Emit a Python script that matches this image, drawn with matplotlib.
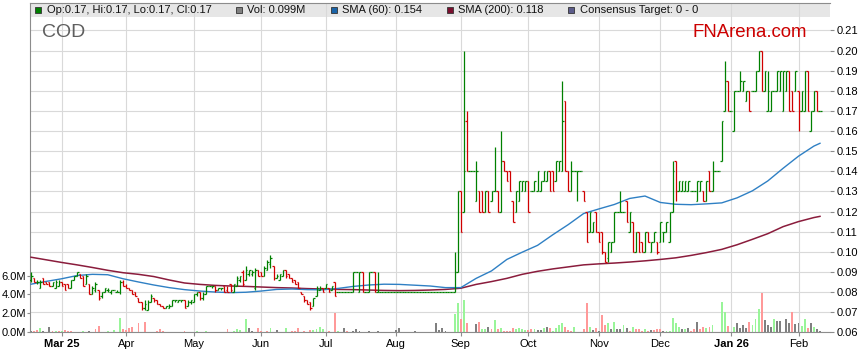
import matplotlib
matplotlib.use("Agg")
import matplotlib.pyplot as plt
import matplotlib.transforms as mtrans
from matplotlib.collections import LineCollection
from matplotlib.patches import Rectangle
import numpy as np
import pandas as pd

plt.rcParams['font.family'] = ['Liberation Sans', 'DejaVu Sans']

# ---------------- data ----------------
ticker = "COD"
start_date = "2025-02-17"
n_bars = 258

# prices in cents
opens = [
    8.6, 8.7, 8.5, 8.2, 8.7, 8.5, 8.5, 8.3, 8.2, 8.3,
    8.5, 8.4, 8.4, 8.2, 8.6, 8.8, 8.9, 8.8, 8.4, 8.4,
    7.9, 8.1, 8.1, 7.8, 8.0, 8.1, 8.0, 8.1, 8.0, 8.0,
    8.5, 8.3, 8.2, 8.1, 8.0, 7.7, 7.5, 7.2, 7.1, 7.5,
    7.7, 7.6, 7.4, 7.3, 7.2, 7.2, 7.3, 7.6, 7.5, 7.6,
    7.6, 7.3, 7.5, 7.5, 7.9, 8.0, 7.7, 7.9, 8.3, 8.3,
    8.3, 8.1, 8.2, 8.3, 8.1, 8.4, 8.0, 8.3, 8.6, 9.0,
    8.6, 8.9, 8.9, 8.2, 9.1, 9.0, 8.8, 9.1, 9.4, 9.3,
    8.7, 8.6, 8.8, 9.1, 8.9, 8.7, 8.6, 8.5, 8.0, 7.8,
    7.6, 7.5, 7.3, 7.8, 8.1, 8.2, 8.2, 8.2, 8.1, 8.5,
    8, 8, 8, 8, 8, 8, 9, 8, 9, 8,
    8, 9, 9, 8, 8, 8, 8, 8, 8, 8,
    8, 8, 8, 8, 8, 8, 8, 8, 8, 8,
    8, 8, 8, 8, 8, 8, 8, 8, 8, 9,
    13, 12, 16.5, 14, 14, 12.5, 13, 13, 12, 13,
    12.5, 13, 13, 12, 14.5, 14, 14, 12.5, 12, 12.5,
    13, 13, 13.5, 13, 13, 13, 13, 13.5, 13.5, 14,
    14, 13.5, 14, 14, 17.5, 14, 13, 14, 14, 14,
    13, 12, 11, 11, 12, 11, 11, 10, 9.7, 10,
    10.5, 12, 12, 12, 12.5, 11, 11.5, 10, 11, 10.5,
    10, 11, 10, 10.5, 10.5, 10.5, 11, 11, 10.5, 12,
    14.5, 13, 13, 13, 13, 13, 13, 12.5, 13, 13,
    12.5, 14, 13, 14, 14, 14.5, 17, 18.5, 17, 16,
    18, 18, 18, 17.5, 18, 18, 18, 19, 20, 18,
    17, 17, 18, 18, 18, 17, 18, 19, 18, 18,
    18, 17, 17, 19, 16, 17, 18, 17,
]
highs = [
    9.0, 8.7, 8.6, 8.6, 8.7, 8.5, 8.5, 8.5, 8.6, 8.6,
    8.5, 8.4, 8.4, 8.6, 8.8, 9.0, 8.9, 8.8, 8.9, 8.4,
    8.3, 8.5, 8.1, 8.0, 8.2, 8.2, 8.1, 8.1, 8.1, 8.6,
    8.6, 8.4, 8.2, 8.1, 8.0, 7.7, 7.5, 7.6, 7.6, 7.9,
    7.7, 7.6, 7.4, 7.3, 7.3, 7.4, 7.6, 7.6, 7.6, 7.6,
    7.6, 7.6, 7.6, 7.9, 8.0, 8.0, 8.0, 8.3, 8.3, 8.3,
    8.3, 8.2, 8.2, 8.3, 8.3, 8.4, 8.4, 8.8, 8.8, 9.1,
    9.3, 9.1, 9.1, 9.2, 9.1, 9.0, 9.3, 9.6, 9.85, 9.3,
    8.9, 8.9, 9.1, 9.1, 8.9, 8.7, 8.6, 8.5, 8.0, 7.8,
    7.6, 7.5, 7.7, 8.3, 8.3, 8.2, 8.4, 8.2, 8.3, 8.5,
    8, 8, 8, 8, 8, 9, 9, 9, 9, 8,
    9, 9, 9, 9, 8, 8, 8, 8, 8, 8,
    8, 8, 8, 8, 8, 8, 8, 8, 8, 8,
    8, 8, 8, 8, 8, 8, 8, 8, 10, 13,
    13, 20, 17, 14, 14, 14.5, 13, 13, 13, 13,
    13, 15.2, 13, 16, 14.5, 14, 14, 12.5, 13, 13.5,
    13.5, 13.5, 13.5, 13, 13.5, 14, 13.5, 14, 14, 14,
    14, 14.5, 14.5, 18.5, 17.5, 14, 14.5, 14, 14, 14,
    13, 12, 12, 11.5, 12, 11, 11, 10, 10.5, 10.5,
    12, 12, 13, 12, 12.5, 12, 11.5, 11, 11, 10.5,
    11, 11, 10.5, 11, 10.5, 11.5, 11, 11.5, 12, 14.5,
    14.5, 13.5, 13.5, 13.5, 13.5, 13, 13, 13.5, 13.5, 13,
    13.5, 14, 14.5, 14, 14, 16.5, 19.5, 18.5, 17, 18,
    18, 19, 18.5, 18, 18, 18, 19, 20, 20, 19,
    19, 18, 18, 19, 19, 19, 19, 19, 18, 19,
    18, 18, 19, 19, 17, 18, 18, 17,
]
lows = [
    8.5, 8.5, 8.4, 8.2, 8.4, 8.4, 8.3, 8.3, 8.2, 8.3,
    8.3, 8.1, 8.2, 8.2, 8.6, 8.8, 8.7, 8.3, 8.4, 7.9,
    7.9, 8.0, 7.6, 7.7, 8.0, 8.0, 7.9, 8.1, 8.0, 7.9,
    8.3, 8.2, 8.1, 7.9, 7.8, 7.5, 7.1, 7.1, 7.1, 7.5,
    7.5, 7.4, 7.3, 7.2, 7.2, 7.2, 7.3, 7.5, 7.5, 7.5,
    7.2, 7.3, 7.4, 7.5, 7.8, 7.6, 7.6, 7.9, 8.3, 8.2,
    8.0, 8.1, 8.1, 8.0, 8.0, 8.0, 8.0, 8.3, 8.5, 8.3,
    8.6, 8.8, 8.8, 8.1, 8.8, 8.8, 8.8, 9.1, 9.2, 8.6,
    8.7, 8.6, 8.8, 8.7, 8.7, 8.5, 8.4, 8.2, 7.9, 7.5,
    7.4, 7.1, 7.3, 7.8, 8.1, 8.0, 8.2, 8.0, 8.1, 7.8,
    8, 8, 8, 8, 8, 8, 9, 8, 8, 8,
    8, 9, 8, 8, 8, 8, 8, 8, 8, 8,
    8, 8, 8, 8, 8, 8, 8, 8, 8, 8,
    8, 8, 8, 8, 8, 8, 8, 8, 8, 9,
    11, 12, 14, 14, 14, 12.5, 12, 12, 12, 12,
    12.5, 13, 12, 12, 14, 13.5, 13, 11.5, 12, 12.5,
    13, 13, 12, 13, 13, 13, 13, 13.5, 13.5, 13,
    13, 13.5, 14, 14, 14, 13, 13, 14, 12.5, 14,
    12.5, 10.5, 11, 11, 11, 10.5, 9.9, 9.5, 9.5, 10,
    10.5, 12, 12, 12, 11.5, 11, 10, 10, 10, 10,
    10, 10.5, 10, 10.5, 9.9, 10.5, 10.5, 11, 10.5, 12,
    12.5, 13, 13, 13, 13, 13, 13, 12.5, 13, 12.5,
    12.5, 13, 13, 14, 14, 14.5, 17, 17, 17, 16,
    18, 18, 18, 17.5, 17, 18, 18, 19, 18, 18,
    17, 17, 18, 18, 18, 17, 18, 17, 17, 18,
    16, 17, 17, 17, 16, 17, 17, 17,
]
closes = [
    8.8, 8.5, 8.5, 8.5, 8.4, 8.4, 8.3, 8.5, 8.5, 8.5,
    8.3, 8.1, 8.2, 8.6, 8.8, 9.0, 8.7, 8.3, 8.8, 7.9,
    8.2, 8.4, 7.7, 8.0, 8.2, 8.1, 8.1, 8.1, 8.0, 8.5,
    8.3, 8.2, 8.1, 7.9, 7.8, 7.5, 7.2, 7.4, 7.5, 7.8,
    7.6, 7.4, 7.3, 7.2, 7.3, 7.3, 7.6, 7.6, 7.6, 7.6,
    7.2, 7.5, 7.6, 7.9, 8.0, 7.7, 7.9, 8.3, 8.3, 8.3,
    8.1, 8.2, 8.2, 8.0, 8.0, 8.1, 8.4, 8.7, 8.8, 8.4,
    9.1, 9.1, 9.0, 9.1, 8.8, 8.8, 9.2, 9.5, 9.7, 8.7,
    8.8, 8.9, 9.1, 8.8, 8.7, 8.5, 8.4, 8.2, 7.9, 7.6,
    7.4, 7.2, 7.7, 8.2, 8.2, 8.0, 8.4, 8.0, 8.3, 7.8,
    8, 8, 8, 8, 8, 9, 9, 9, 8, 8,
    9, 9, 8, 8, 8, 8, 8, 8, 8, 8,
    8, 8, 8, 8, 8, 8, 8, 8, 8, 8,
    8, 8, 8, 8, 8, 8, 8, 8, 9, 13,
    11, 14, 14, 14, 14, 14, 12, 12, 13, 12,
    13, 13, 12, 14.5, 14, 13.5, 13, 11.5, 13, 13.5,
    13.5, 13.5, 12, 13, 13.5, 14, 13.5, 14, 14, 13,
    13, 14.5, 14.5, 16.5, 14, 13, 14, 14, 14, 14,
    12.5, 10.5, 12, 11.5, 11, 10.5, 10, 9.5, 10.5, 10.5,
    12, 12, 12, 12, 11.5, 12, 10, 11, 10, 10,
    11, 10.5, 10.5, 11, 10, 11.5, 11, 11.5, 12, 14,
    13, 13.5, 13.5, 13.5, 13.5, 13, 13, 13.5, 13.5, 12.5,
    13.5, 13, 14, 14, 14, 16.5, 18.5, 17, 17, 18,
    18, 18.5, 18.5, 18, 17, 18, 19, 20, 18, 19,
    18, 18, 18, 19, 19, 19, 19, 17, 17, 19,
    17, 18, 19, 17, 17, 18, 17, 17,
]
# volume in millions of shares
volumes = [
    0.1, 0.15, 0.25, 0.5, 0.1, 0, 0.6, 0.15, 0.15, 0.1,
    0.15, 0.2, 0.15, 0.1, 0, 0, 0, 0.15, 0, 0.15,
    0, 0.3, 0.7, 0, 0, 0.15, 0, 0.25, 0, 1.5,
    0.4, 0.25, 0.5, 0.6, 0, 1.0, 0, 1.05, 0, 0.07,
    0, 0.15, 0.3, 0.15, 0, 0, 0, 0.07, 0, 0,
    0.1, 0, 0, 0, 0.15, 0, 0, 0.15, 0, 0,
    0, 0, 0.07, 0, 0.3, 0, 0.15, 0.3, 0.25, 0,
    1.45, 0.45, 0.15, 0, 0.45, 0.15, 0, 0.15, 0.45, 0,
    0.25, 0, 0, 0.45, 0, 0.15, 0.15, 0.45, 0, 0.15,
    0, 0.25, 0.25, 0.4, 0.6, 0.35, 0, 0.1, 0, 2.0,
    0.15, 0, 0.5, 0.15, 0, 0.15, 0.4, 0.15, 0.07, 0,
    0.15, 0, 0, 0.1, 0.07, 0, 0, 0, 0, 0.25,
    0.5, 0, 0, 0, 0, 0.15, 0, 0, 0, 0,
    0.07, 0.07, 0.95, 0.25, 0.45, 0.15, 0, 0.07, 1.9, 3.1,
    1.4, 3.4, 1.0, 0, 0, 0.9, 1.1, 0.3, 0.3, 0.6,
    0.3, 1.3, 0.4, 0.45, 0.15, 0.15, 0.15, 0.45, 0.3, 0.5,
    0.35, 0.25, 0.2, 0.3, 0.4, 0.25, 0.25, 0.45, 0.55, 0.45,
    0.15, 0.45, 0.8, 1.0, 0.6, 0.25, 0.15, 0.6, 0, 0,
    0.35, 3.1, 0.55, 0.2, 0.45, 0.15, 1.8, 0.8, 1.0, 0.4,
    1.1, 0.4, 0.4, 0.8, 0.45, 0.15, 0.6, 0.3, 0.4, 0.15,
    0.35, 0.15, 0.2, 0.25, 0.35, 0.35, 0.15, 0.15, 0.15, 1.5,
    0.95, 0.6, 0.3, 0.3, 0.45, 0.15, 0.3, 1.1, 0.35, 0.6,
    0.45, 0.6, 0.8, 0, 0, 3.2, 2.1, 0.7, 0, 0.6,
    1.0, 0.5, 0.8, 0.5, 1.1, 0.8, 1.4, 2.5, 4.2, 1.3,
    0.8, 0.6, 1.4, 1.2, 1.2, 0, 1.4, 0.95, 2.1, 0.9,
    1.0, 0.7, 1.4, 0.5, 1.0, 0.6, 0.4, 0.099,
]
# g = up day, r = down day, n = unchanged
volume_dirs = (
    "nrrgnnnrgr" "grrrnnngnn" "nrrnngngng" "rrrrnrnrnn" "nrrrnnnrnn"
    "rnnngnngnn" "nnrnrngggn" "gnnnrrnrgn" "nnngnrrrnr" "nrggggnrnr"
    "gnnrnnnnnn" "nnnnnnnnnn" "nnnnnnnnnn" "nnnnnnnngg" "rgrnnnrggn"
    "rgrgrrrrgg" "ggrrgnngnr" "ggggrrrgnn" "rrgnrnrrgn" "gnngnrgrrr"
    "grnrrrnggg" "ggngnrrnrr" "grgnnggrng" "nnnnrgggrn" "nngnnnnnrn"
    "nggrngnn"
)
# moving averages sampled every 5th bar, plus the last bar
sma_step = 5
sma60 = [
    .0839, .0853, .0866, .0882, .0888, .0886, .0866, .0850, .0835, .0822,
    .0812, .0805, .0800, .0797, .0799, .0805, .0813, .0815, .0812, .0811,
    .0818, .0828, .0835, .0839, .0838, .0834, .0830, .0822, .0822, .0868,
    .0905, .0962, .0998, .1032, .1085, .1135, .1190, .1213, .1235, .1265,
    .1277, .1245, .1236, .1234, .1238, .1243, .1268, .1303, .1352, .1415,
    .1475, .1525, .1539,
]
sma200 = [
    .0973, .0960, .0947, .0935, .0922, .0908, .0896, .0888, .0877, .0860,
    .0845, .0838, .0833, .0830, .0828, .0825, .0822, .0820, .0817, .0815,
    .0813, .0812, .0810, .0808, .0807, .0808, .0810, .0813, .0819, .0838,
    .0852, .0868, .0888, .0903, .0915, .0925, .0935, .0940, .0944, .0949,
    .0955, .0962, .0970, .0982, .0996, .1012, .1035, .1062, .1090, .1125,
    .1150, .1170, .1176,
]

assert len(opens) == len(highs) == len(lows) == len(closes) == n_bars
assert len(volumes) == len(volume_dirs) == n_bars

# ---------------- figure ----------------
W, H = 859, 363
fig = plt.figure(figsize=(W / 100, H / 100), dpi=100)
L, R, T, B = 30, 830, 3, 332.3
ax = fig.add_axes([L / W, 1 - B / H, (R - L) / W, (B - T) / H])
axp = ax.twinx()

dates = pd.bdate_range(start_date, periods=n_bars)
idx = np.arange(n_bars)
o = np.array(opens) / 100
h = np.array(highs) / 100
lo = np.array(lows) / 100
c = np.array(closes) / 100

ax.set_xlim(-0.33, 260.26)
ax.set_ylim(0, 34.8)
axp.set_ylim(0.06, 0.2236)

grid_col = '#d9d9d9'
# legend strip
ax.add_patch(Rectangle((0, (B - 16.5) / (B - T)), 1, 1, transform=ax.transAxes,
                       facecolor='#e6e6e6', edgecolor='none', zorder=0.3))

# horizontal grid from price ticks
price_ticks = np.round(np.arange(0.06, 0.2151, 0.01), 2)
blend = mtrans.blended_transform_factory(ax.transAxes, axp.transData)
for p in price_ticks:
    ax.plot([0, 1], [p, p], transform=blend, color=grid_col, lw=0.8, zorder=0.6)

# month ticks
month_first = [i for i in range(1, n_bars) if dates[i].month != dates[i - 1].month]
labels = []
for k, i in enumerate(month_first):
    d = dates[i]
    if k == 0 or d.month == 1:
        labels.append(d.strftime('%b %y'))
    else:
        labels.append(d.strftime('%b'))
ax.set_xticks(month_first)
ax.set_xticklabels(labels)
for k, tl in enumerate(ax.get_xticklabels()):
    if ' ' in labels[k]:
        tl.set_fontweight('bold')
ax.grid(axis='x', color=grid_col, lw=0.8)
ax.set_axisbelow(True)

# volume bars
vcol = {'g': '#99f599', 'r': '#ff9999', 'n': '#808080'}
ax.bar(idx, volumes, width=0.62, color=[vcol[d] for d in volume_dirs],
       linewidth=0, zorder=2)

# moving averages
sma_x = list(range(0, n_bars - 2, sma_step)) + [n_bars - 1]
axp.plot(sma_x, sma200, color='#8a1c3c', lw=1.1, zorder=2)
axp.plot(sma_x, sma60, color='#2f80c4', lw=1.0, zorder=2)

# OHLC bars
segs, cols = [], []
for i in idx:
    col = '#008000' if c[i] >= o[i] else '#d00000'
    segs += [[(i, lo[i]), (i, h[i])], [(i - 0.5, o[i]), (i, o[i])], [(i, c[i]), (i + 0.5, c[i])]]
    cols += [col] * 3
axp.add_collection(LineCollection(segs, colors=cols, linewidths=0.9, zorder=3))

# axes styling
ax.spines['right'].set_visible(False)
for s in ['left', 'bottom', 'top']:
    ax.spines[s].set_color('#8c8c8c')
for s in axp.spines.values():
    s.set_visible(False)

vol_ticks = [0, 2, 4, 6]
ax.set_yticks(vol_ticks)
ax.set_yticklabels([f"{v:.1f}M" for v in vol_ticks])
ax.tick_params(axis='y', length=2, pad=1, labelsize=8, color='#8c8c8c')
ax.tick_params(axis='x', length=3, pad=1.5, labelsize=8, color='#8c8c8c')
axp.set_yticks(price_ticks)
axp.set_yticklabels([f"{p:.2f}" for p in price_ticks])
axp.tick_params(axis='y', length=3, pad=2, labelsize=8, color='#8c8c8c')

# ---------------- texts ----------------
def fx(x):
    return x / W

def fy(y):
    return 1 - y / H

fig.text(fx(42), fy(32.5), ticker, fontsize=14, color='#5f5f5f', va='center', ha='left')
fig.text(fx(693), fy(32.5), "FNArena.com", fontsize=13.4, color='#cc0000', va='center', ha='left')

legend_items = [
    (35, 47, '#008000', f"Op:{o[-1]:.2f}, Hi:{h[-1]:.2f}, Lo:{lo[-1]:.2f}, Cl:{c[-1]:.2f}"),
    (236, 247, '#808080', f"Vol: {volumes[-1]:.3f}M"),
    (331, 342, '#1a64a8', f"SMA (60): {sma60[-1]:.3f}"),
    (447, 458, '#7a0f2e', f"SMA (200): {sma200[-1]:.3f}"),
    (568, 580, '#5c5c8a', "Consensus Target: 0 - 0"),
]
for sx, tx, colr, txt in legend_items:
    fig.add_artist(Rectangle((fx(sx), fy(13)), 6 / W, 6 / H, transform=fig.transFigure,
                             facecolor=colr, edgecolor='#333333', lw=0.6))
    fig.text(fx(tx), fy(10), txt, fontsize=8, color='#111111', va='center', ha='left')

fig.savefig('out.png', dpi=100)
